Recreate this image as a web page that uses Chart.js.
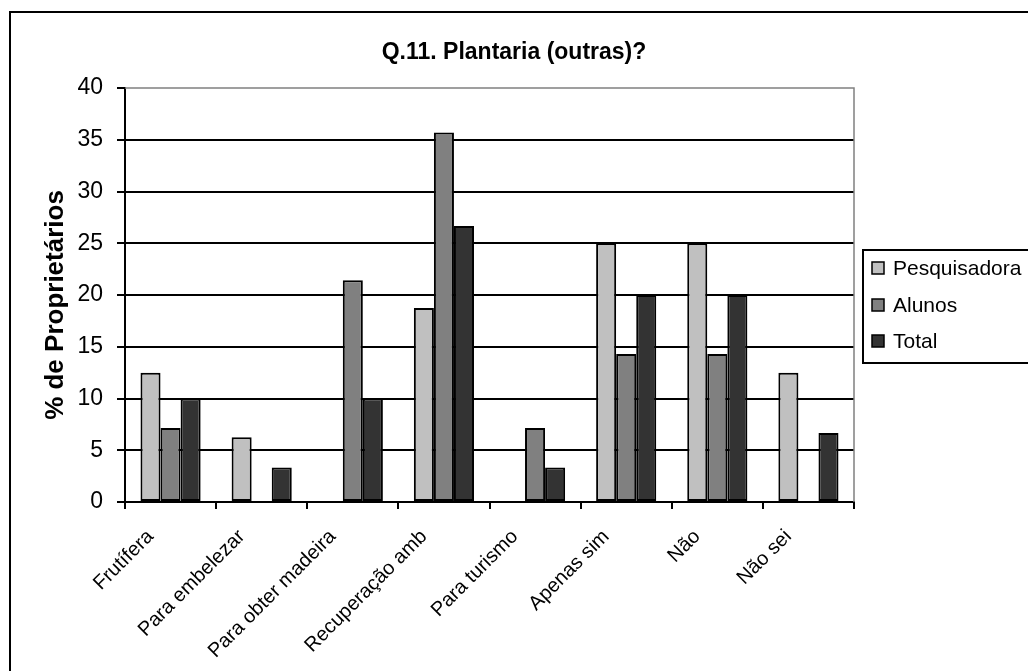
<!DOCTYPE html>
<html>
<head>
<meta charset="utf-8">
<script src="https://cdn.jsdelivr.net/npm/chart.js"></script>
<style>
    html, body { margin: 0; padding: 0; background: #fff; }
    #wrap { width: 1028px; height: 671px; position: relative; }
</style>
</head>
<body>
<div id="wrap"><canvas id="plantariaChart"></canvas></div>
<script>
const categories = [
    'Frutífera',
    'Para embelezar',
    'Para obter madeira',
    'Recuperação amb',
    'Para turismo',
    'Apenas sim',
    'Não',
    'Não sei',
];

const pesquisadora = [12.5, 6.25, 0, 18.75, 0, 25, 25, 12.5];
const alunos = [7.14, 0, 21.43, 35.71, 7.14, 14.29, 14.29, 0];
const total = [10, 3.33, 10, 26.67, 3.33, 20, 20, 6.67];

const yTicks = [0, 5, 10, 15, 20, 25, 30, 35, 40];

const FONT = "'Liberation Sans', Arial, sans-serif";

// outer frame, plot border (gray top/right), titles and boxed legend
const decorPlugin = {
    id: 'decor',
    beforeDatasetsDraw(chart) {
        const { ctx, chartArea } = chart;
        ctx.save();
        ctx.strokeStyle = '#808080';
        ctx.lineWidth = 1.5;
        ctx.beginPath();
        ctx.moveTo(chartArea.left, chartArea.top);
        ctx.lineTo(chartArea.right, chartArea.top);
        ctx.lineTo(chartArea.right, chartArea.bottom);
        ctx.stroke();
        ctx.restore();
    },
    afterDraw(chart) {
        const { ctx } = chart;
        ctx.save();

        ctx.strokeStyle = '#000';
        ctx.lineWidth = 2;
        ctx.strokeRect(10, 12, 1040, 700);

        ctx.fillStyle = '#000';
        ctx.font = 'bold 23px ' + FONT;
        ctx.textAlign = 'center';
        ctx.textBaseline = 'middle';
        ctx.fillText('Q.11. Plantaria (outras)?', 514, 53);

        // y axis title
        ctx.save();
        ctx.translate(56, 305);
        ctx.rotate(-Math.PI / 2);
        ctx.font = 'bold 26px ' + FONT;
        ctx.fillText('% de Proprietários', 0, 0);
        ctx.restore();

        // legend
        ctx.lineWidth = 2;
        ctx.strokeRect(863, 250, 200, 113);
        ctx.font = '21px ' + FONT;
        ctx.textAlign = 'left';
        const rows = [268, 305, 341];
        chart.data.datasets.forEach((ds, i) => {
            const y = rows[i];
            ctx.fillStyle = ds.backgroundColor;
            ctx.fillRect(872, y - 6, 12, 12);
            ctx.lineWidth = 1.5;
            ctx.strokeStyle = '#000';
            ctx.strokeRect(872, y - 6, 12, 12);
            ctx.fillStyle = '#000';
            ctx.fillText(ds.label, 893, y + 1);
        });

        ctx.restore();
    },
};

const ctx = document.getElementById('plantariaChart').getContext('2d');

new Chart(ctx, {
    type: 'bar',
    data: {
        labels: categories,
        datasets: [
            { label: 'Pesquisadora', data: pesquisadora, backgroundColor: '#C0C0C0' },
            { label: 'Alunos', data: alunos, backgroundColor: '#808080' },
            { label: 'Total', data: total, backgroundColor: '#333333' },
        ],
    },
    options: {
        responsive: true,
        maintainAspectRatio: false,
        animation: false,
        layout: {
            padding: { left: 10, top: 88, right: 174, bottom: 0 },
        },
        datasets: {
            bar: {
                borderColor: '#000',
                borderWidth: 2,
                borderSkipped: false,
                categoryPercentage: 0.66,
                barPercentage: 1.0,
            },
        },
        plugins: {
            legend: { display: false },
            title: { display: false },
            tooltip: { enabled: false },
        },
        scales: {
            x: {
                afterFit(scale) {
                    scale.height = 169;
                },
                grid: {
                    drawOnChartArea: false,
                    drawTicks: true,
                    tickLength: 7,
                    color: '#000',
                    lineWidth: 2,
                    offset: true,
                },
                border: { display: true, color: '#000', width: 2 },
                ticks: {
                    color: '#000',
                    font: { family: FONT, size: 20 },
                    minRotation: 45,
                    maxRotation: 45,
                    padding: 16,
                    labelOffset: -20,
                },
            },
            y: {
                min: 0,
                max: 40,
                afterFit(scale) {
                    scale.width = 115;
                },
                afterBuildTicks(scale) {
                    scale.ticks = yTicks.map((v) => ({ value: v }));
                },
                grid: {
                    color: (c) => (c.tick && c.tick.value === 40 ? 'rgba(0,0,0,0)' : '#000'),
                    tickColor: '#000',
                    lineWidth: 2,
                    tickLength: 8,
                },
                border: { display: true, color: '#000', width: 2 },
                ticks: {
                    color: '#000',
                    font: { family: FONT, size: 23 },
                    padding: 14,
                },
            },
        },
    },
    plugins: [decorPlugin],
});
</script>
</body>
</html>
